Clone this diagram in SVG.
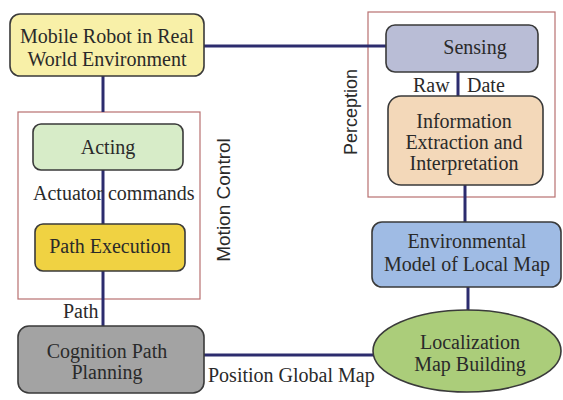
<svg xmlns="http://www.w3.org/2000/svg" width="563" height="400" viewBox="0 0 563 400">
<style>
.box{stroke:#3a3a3a;stroke-width:1.6}
.t{font-family:"Liberation Serif","Times New Roman",serif;font-size:20px;fill:#2a2a2a;text-anchor:middle}
.l{font-family:"Liberation Serif","Times New Roman",serif;font-size:20px;fill:#2a2a2a}
.s{font-family:"Liberation Sans",Arial,sans-serif;font-size:19px;fill:#2a2a2a;text-anchor:middle}
.frame{fill:none;stroke:#b87070;stroke-width:1.2}
.c{stroke:#2c2c6e;stroke-width:3;fill:none}
</style>
<rect width="563" height="400" fill="#ffffff"/>
<g id="frames">
<rect class="frame" x="18" y="112" width="182" height="187"/>
<rect class="frame" x="368" y="12" width="187" height="185"/>
</g>
<g id="connectors">
<line class="c" x1="204" y1="46" x2="386" y2="46"/>
<line class="c" x1="103" y1="76" x2="103" y2="112"/>
<line class="c" x1="103" y1="170" x2="103" y2="224"/>
<line class="c" x1="103" y1="271" x2="103" y2="326"/>
<line class="c" x1="458" y1="72" x2="458" y2="96"/>
<line class="c" x1="465" y1="185" x2="465" y2="222"/>
<line class="c" x1="468" y1="287" x2="468" y2="311"/>
<line class="c" x1="204" y1="355" x2="376" y2="355"/>
</g>
<g id="mobile-robot">
<rect class="box" x="10" y="14" width="194" height="62" rx="10" fill="#f8f0a8"/>
<text class="t" x="107" y="43">Mobile Robot in Real</text>
<text class="t" x="107" y="66">World Environment</text>
</g>
<g id="sensing">
<rect class="box" x="386" y="25" width="152" height="47" rx="9" fill="#b9bdd6"/>
<text class="t" x="475" y="54">Sensing</text>
</g>
<g id="information">
<rect class="box" x="388" y="96" width="155" height="89" rx="13" fill="#f3d8b9"/>
<text class="t" x="464" y="128">Information</text>
<text class="t" x="464" y="149">Extraction and</text>
<text class="t" x="464" y="170">Interpretation</text>
</g>
<g id="env-model">
<rect class="box" x="372" y="222" width="189" height="65" rx="10" fill="#9fbbe4"/>
<text class="t" x="467" y="248">Environmental</text>
<text class="t" x="467" y="271">Model of Local Map</text>
</g>
<g id="localization">
<ellipse class="box" cx="467" cy="351" rx="94" ry="41" fill="#abcd7a"/>
<text class="t" x="470" y="349">Localization</text>
<text class="t" x="470" y="371">Map Building</text>
</g>
<g id="cognition">
<rect class="box" x="18" y="326" width="186" height="67" rx="11" fill="#a3a3a3"/>
<text class="t" x="107" y="358">Cognition Path</text>
<text class="t" x="107" y="379">Planning</text>
</g>
<g id="acting">
<rect class="box" x="33" y="124" width="150" height="46" rx="8" fill="#d7ecc8"/>
<text class="t" x="108" y="154">Acting</text>
</g>
<g id="path-execution">
<rect class="box" x="35" y="224" width="150" height="47" rx="8" fill="#f0d242"/>
<text class="t" x="110" y="253">Path Execution</text>
</g>
<g id="labels">
<text class="l" x="413" y="92">Raw</text>
<text class="l" x="467" y="92">Date</text>
<text class="l" x="33" y="200">Actuator commands</text>
<text class="l" x="63" y="318">Path</text>
<text class="l" x="208" y="382">Position Global Map</text>
<text class="s" transform="translate(230,200) rotate(-90)">Motion Control</text>
<text class="s" transform="translate(357,112) rotate(-90)" style="font-size:18px">Perception</text>
</g>
</svg>
